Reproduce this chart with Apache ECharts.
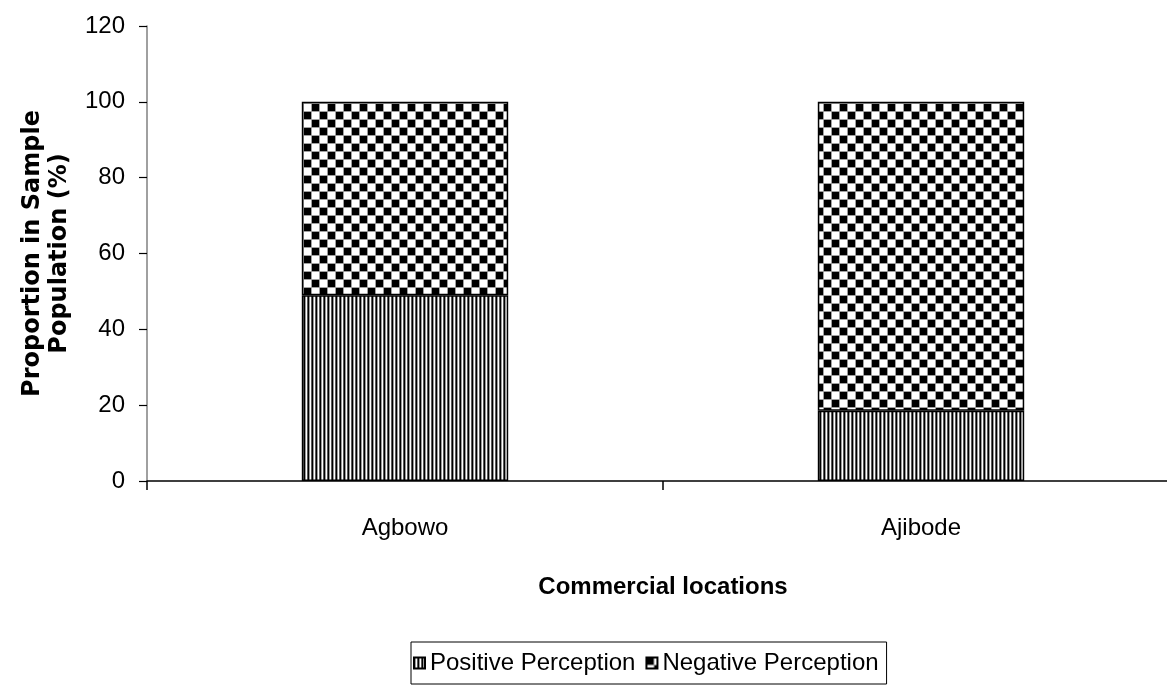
<!DOCTYPE html>
<html>
<head>
<meta charset="utf-8">
<script src="https://cdn.jsdelivr.net/npm/echarts@6/dist/echarts.min.js"></script>
<style>
  html, body { margin: 0; padding: 0; background: #fff; overflow: hidden; }
  /* the plot area runs a little past the right edge of the window */
  #chart { width: 1180px; height: 696px; }
</style>
</head>
<body>
<div id="chart"></div>
<script>
// Share of respondents by perception at each commercial location
const categories = ['Agbowo', 'Ajibode'];
const positivePerception = [49, 18.5];
const negativePerception = [51, 81.5];
const seriesNames = ['Positive Perception', 'Negative Perception'];

// Vertical hatching for the positive share
function stripeTile() {
  const c = document.createElement('canvas');
  c.width = 4; c.height = 4;
  const g = c.getContext('2d');
  const cols = ['#000000', '#9a9a9a', '#ffffff', '#5a5a5a'];
  cols.forEach((col, i) => { g.fillStyle = col; g.fillRect(i, 0, 1, 4); });
  return c;
}

// Checkerboard for the negative share
function checkerTile() {
  const s = 8;
  const c = document.createElement('canvas');
  c.width = s * 2; c.height = s * 2;
  const g = c.getContext('2d');
  g.fillStyle = '#ffffff';
  g.fillRect(0, 0, s * 2, s * 2);
  g.fillStyle = '#000000';
  g.fillRect(0, 0, s, s);
  g.fillRect(s, s, s, s);
  g.fillStyle = '#a0a0a0';
  g.fillRect(s - 1, 0, 1, s * 2);
  g.fillRect(2 * s - 1, 0, 1, s * 2);
  g.fillRect(0, s - 1, s * 2, 1);
  g.fillRect(0, 2 * s - 1, s * 2, 1);
  return c;
}

const stripeFill = { image: stripeTile(), repeat: 'repeat' };
const checkerFill = { image: checkerTile(), repeat: 'repeat' };

const chart = echarts.init(document.getElementById('chart'), null, { renderer: 'canvas' });

const baseFont = 'Liberation Sans, Arial, sans-serif';

chart.setOption({
  animation: false,
  backgroundColor: '#ffffff',
  grid: { left: 147, width: 1032, top: 26, height: 455, containLabel: false },
  legend: {
    data: seriesNames,
    top: 642,
    left: 411,
    orient: 'horizontal',
    borderColor: '#000000',
    borderWidth: 1,
    padding: [9, 8, 9, 2],
    itemWidth: 11,
    itemHeight: 11,
    itemGap: 10,
    icon: 'rect',
    textStyle: { fontFamily: baseFont, fontSize: 24, color: '#000', padding: [0, 0, 0, 0] }
  },
  xAxis: {
    type: 'category',
    data: categories,
    name: 'Commercial locations',
    nameLocation: 'middle',
    nameGap: 94,
    nameTextStyle: { fontFamily: baseFont, fontSize: 24, fontWeight: 'bold', color: '#000' },
    axisLine: { show: true, lineStyle: { color: '#000', width: 1.5 } },
    axisTick: { show: true, length: 9, alignWithLabel: false, lineStyle: { color: '#000', width: 1.5 } },
    axisLabel: { fontFamily: baseFont, fontSize: 24, color: '#000', margin: 35 },
    splitLine: { show: false }
  },
  yAxis: {
    type: 'value',
    min: 0,
    max: 120,
    interval: 20,
    name: 'Proportion in Sample\nPopulation (%)',
    nameLocation: 'middle',
    nameGap: 74,
    nameTextStyle: { fontFamily: 'DejaVu Sans, sans-serif', fontSize: 24, fontWeight: 'bold', color: '#000', lineHeight: 27 },
    axisLine: { show: true, lineStyle: { color: '#808080', width: 1.5 } },
    axisTick: { show: true, length: 8, lineStyle: { color: '#000', width: 1.2 } },
    axisLabel: { fontFamily: baseFont, fontSize: 24, color: '#000', margin: 22 },
    splitLine: { show: false }
  },
  series: [
    {
      name: seriesNames[0],
      type: 'bar',
      stack: 'total',
      barWidth: '40%',
      data: positivePerception,
      itemStyle: { color: stripeFill, borderColor: '#000', borderWidth: 1.5 }
    },
    {
      name: seriesNames[1],
      type: 'bar',
      stack: 'total',
      barWidth: '40%',
      data: negativePerception,
      itemStyle: { color: checkerFill, borderColor: '#000', borderWidth: 1.5 }
    }
  ]
});
</script>
</body>
</html>
